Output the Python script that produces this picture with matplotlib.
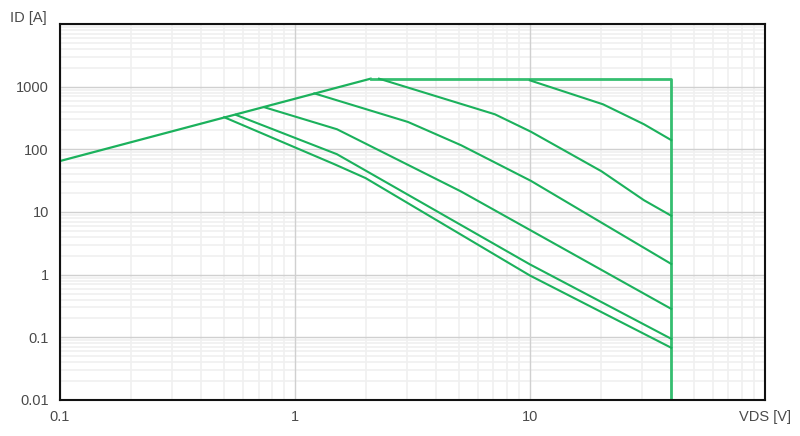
import matplotlib
matplotlib.use('Agg')
from matplotlib import pyplot as plt
from matplotlib.ticker import LogLocator, NullFormatter

# safe operating area boundary
rds_v = [0.1, 2.1]
rds_i = [65, 1340]
lim_v = [2.1, 40, 40]
lim_i = [1340, 1340, 0.01]

# pulse curves (top to bottom)
a_v = [10, 20.5, 30.6, 40]
a_i = [1260, 522, 251, 140]
b_v = [2.28, 7.1, 10.1, 20.2, 30.6, 40]
b_i = [1340, 362, 191, 44.5, 15.4, 8.7]
c_v = [1.21, 3.03, 5.1, 10.1, 40]
c_i = [780, 273, 116, 31.4, 1.48]
d_v = [0.74, 1.51, 5.1, 40]
d_i = [470, 209, 21.2, 0.284]
e_v = [0.56, 1.51, 10, 40]
e_i = [355, 83.5, 1.46, 0.0946]
f_v = [0.5, 1.47, 2.0, 10, 40]
f_i = [325, 58, 34.7, 0.97, 0.068]

x_ticks = [0.1, 1, 10, 100]
x_labels = ['0.1', '1', '10', 'VDS [V]']
y_ticks = [0.01, 0.1, 1, 10, 100, 1000]
y_labels = ['0.01', '0.1', '1', '10', '100', '1000']

plt.rcParams['font.family'] = ['Liberation Sans', 'DejaVu Sans']

fig = plt.figure(figsize=(8, 4.36), dpi=100)
ax = fig.add_axes([0.075, 0.0826, 0.881, 0.8624])

soa = '#35be70'
line = '#1bb15c'
ax.plot(rds_v, rds_i, color=line, lw=1.6, zorder=3)
ax.plot(lim_v, lim_i, color=soa, lw=2, zorder=3)
for v, i in [(a_v, a_i), (b_v, b_i), (c_v, c_i), (d_v, d_i), (e_v, e_i), (f_v, f_i)]:
	ax.plot(v, i, color=line, lw=1.5, zorder=3)

ax.set_xscale('log')
ax.set_yscale('log')
ax.set_xlim(0.1, 100)
ax.set_ylim(0.01, 10000)

ax.xaxis.set_minor_locator(LogLocator(base=10, subs=range(2, 10)))
ax.yaxis.set_minor_locator(LogLocator(base=10, subs=range(2, 10)))
ax.xaxis.set_minor_formatter(NullFormatter())
ax.yaxis.set_minor_formatter(NullFormatter())
ax.set_xticks(x_ticks)
ax.set_xticklabels(x_labels)
ax.set_yticks(y_ticks)
ax.set_yticklabels(y_labels)

# light minor grid, major lines drawn on top of it
ax.grid(which='minor', color='#f0f0f0', lw=1.2)
ax.set_axisbelow(True)
for x in x_ticks:
	ax.axvline(x, color='#d0d0d0', lw=1, zorder=1)
for y in y_ticks + [10000]:
	ax.axhline(y, color='#d0d0d0', lw=1, zorder=1)

ax.tick_params(which='both', length=0, labelsize=10.5, labelcolor='#4a4a4a')
ax.tick_params(axis='x', pad=7)
ax.tick_params(axis='y', pad=8)
for s in ax.spines.values():
	s.set_linewidth(1.5)
	s.set_color('#111111')
	s.set_zorder(4)

fig.text(0.0125, 0.958, 'ID [A]', fontsize=10.5, color='#4a4a4a', ha='left', va='center')

plt.savefig('out.png', dpi=100)
